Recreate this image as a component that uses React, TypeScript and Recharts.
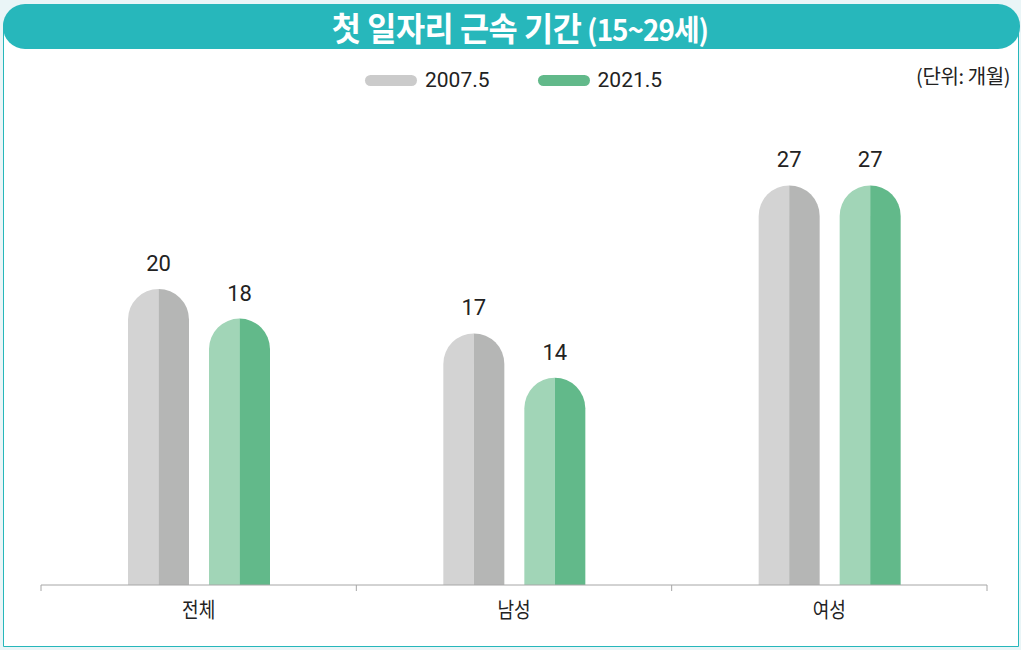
import { Bar, BarChart, LabelList, XAxis, YAxis } from 'recharts'

const categories = ['전체', '남성', '여성']
const series2007 = [20, 17, 27]
const series2021 = [18, 14, 27]
const seriesNames = ['2007.5', '2021.5']

const data = categories.map((name, i) => ({
  name,
  y2007: series2007[i],
  y2021: series2021[i],
}))

// 좌/우 두 톤 색상
const palette = {
  gray: { left: '#d3d3d3', right: '#b5b6b5', legend: '#cbcbcb' },
  green: { left: '#a1d5b7', right: '#62b98a', legend: '#62b98a' },
}

const teal = '#27b7bb'
const axisColor = '#a6a6a6'

const PillBar = (props: any) => {
  const { x, y, width, height, tone } = props
  if (!width || !height) return null
  const r = width / 2
  const c = palette[tone as 'gray' | 'green']
  const bottom = y + height
  const left = `M${x},${bottom} L${x},${y + r} A${r},${r} 0 0 1 ${x + r},${y} L${x + r},${bottom} Z`
  const right = `M${x + r},${y} A${r},${r} 0 0 1 ${x + width},${y + r} L${x + width},${bottom} L${x + r},${bottom} Z`
  return (
    <g>
      <path d={left} fill={c.left} />
      <path d={right} fill={c.right} />
    </g>
  )
}

// 카테고리 라벨 + 구간 경계 눈금
const CategoryTick = (props: any) => {
  const { x, y, payload, index } = props
  const half = payload?.offset ?? 0
  const last = index === categories.length - 1
  return (
    <g>
      <line x1={x - half} y1={y} x2={x - half} y2={y + 6} stroke={axisColor} />
      {last && <line x1={x + half} y1={y} x2={x + half} y2={y + 6} stroke={axisColor} />}
      <text
        transform={`translate(${x},${y + 32}) scale(0.86,1)`}
        textAnchor="middle"
        fill="#222"
        fontSize={21}
        fontFamily='"Noto Sans CJK KR"'
      >
        {payload.value}
      </text>
    </g>
  )
}

const ValueLabel = (props: any) => {
  const { x, y, width, value } = props
  return (
    <text x={x + width / 2} y={y - 18} textAnchor="middle" fill="#222" fontSize={22} fontFamily="Roboto">
      {value}
    </text>
  )
}

export default function App() {
  return (
    <div style={{ position: 'relative', width: 1021, height: 650, background: '#eaf5f7', overflow: 'hidden' }}>
      <style>{'body{margin:0}'}</style>
      <div
        style={{
          position: 'absolute',
          left: 3,
          top: 8,
          width: 1014,
          height: 637,
          background: '#fff',
          border: `1.5px solid ${teal}`,
          borderRadius: '20px 20px 0 0',
        }}
      />
      <div
        style={{
          position: 'absolute',
          left: 3,
          top: 4,
          width: 1017,
          height: 45,
          background: teal,
          borderRadius: 22,
          color: '#fff',
          display: 'flex',
          alignItems: 'center',
          justifyContent: 'center',
          fontFamily: '"Noto Sans CJK KR"',
          fontWeight: 700,
        }}
      >
        <span style={{ display: 'inline-block', transform: 'scaleX(0.96)', whiteSpace: 'nowrap', marginLeft: 18 }}>
          <span style={{ fontSize: 33, letterSpacing: -0.5 }}>첫 일자리 근속 기간</span>
          <span style={{ fontSize: 29, marginLeft: 6, letterSpacing: -1 }}>(15~29세)</span>
        </span>
      </div>
      <div
        style={{
          position: 'absolute',
          right: 11,
          top: 61,
          fontFamily: '"Noto Sans CJK KR"',
          fontSize: 20,
          color: '#222',
          letterSpacing: -0.4,
        }}
      >
        (단위: 개월)
      </div>
      <div
        style={{
          position: 'absolute',
          left: 365,
          top: 68,
          display: 'flex',
          gap: 48,
          fontFamily: 'Roboto',
          fontSize: 21,
          color: '#222',
        }}
      >
        {seriesNames.map((n, i) => (
          <div key={n} style={{ display: 'flex', alignItems: 'center', gap: 8 }}>
            <span
              style={{
                display: 'inline-block',
                width: 52,
                height: 11,
                borderRadius: 6,
                background: i === 0 ? palette.gray.legend : palette.green.legend,
              }}
            />
            <span>{n}</span>
          </div>
        ))}
      </div>
      <div style={{ position: 'absolute', left: 0, top: 0 }}>
        <BarChart
          width={1021}
          height={650}
          data={data}
          margin={{ top: 141, right: 34, left: 41, bottom: 25 }}
          barSize={61}
          barGap={20}
        >
          <XAxis
            dataKey="name"
            height={40}
            axisLine={{ stroke: axisColor }}
            tickLine={false}
            tickSize={0}
            tickMargin={0}
            interval={0}
            tick={<CategoryTick />}
          />
          <YAxis hide domain={[0, 30]} />
          <Bar dataKey="y2007" name={seriesNames[0]} isAnimationActive={false} shape={<PillBar tone="gray" />}>
            <LabelList dataKey="y2007" content={<ValueLabel />} />
          </Bar>
          <Bar dataKey="y2021" name={seriesNames[1]} isAnimationActive={false} shape={<PillBar tone="green" />}>
            <LabelList dataKey="y2021" content={<ValueLabel />} />
          </Bar>
        </BarChart>
      </div>
    </div>
  )
}
